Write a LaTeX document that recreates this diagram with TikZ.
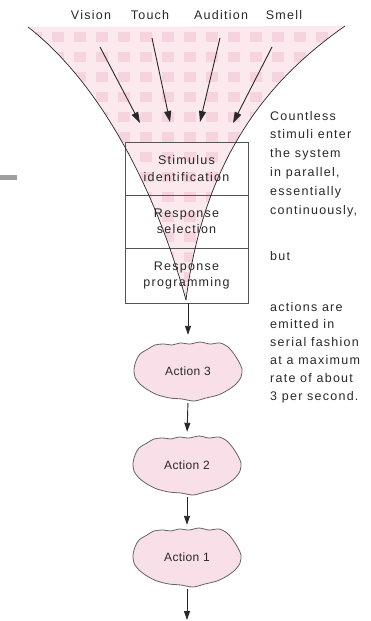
\documentclass[tikz,border=0pt]{standalone}
\usepackage{fontspec}
\setmainfont{Liberation Sans}
\newfontfamily\lsf[LetterSpace=10]{Liberation Sans}
\newfontfamily\asf[LetterSpace=3]{Liberation Sans}
\usetikzlibrary{arrows.meta}
\definecolor{inkc}{RGB}{40,40,40}
\definecolor{pinkbase}{RGB}{251,233,238}
\definecolor{pinkdot}{RGB}{246,212,223}
\definecolor{cloudfill}{RGB}{249,224,232}
\definecolor{cloudline}{RGB}{100,100,100}
\definecolor{boxline}{RGB}{85,85,85}
\begin{document}
\begin{tikzpicture}[x=1pt,y=-1pt,
  txt/.style={font=\lsf\fontsize{12.5}{16.5}\selectfont, text=inkc, inner sep=0pt},
  rowbox/.style={draw=boxline, line width=0.7pt, minimum width=123pt, inner sep=0pt, align=center,
     font=\lsf\fontsize{12.5}{16.5}\selectfont, text=inkc},
  funnelline/.style={draw=inkc, line width=0.7pt},
  inarrow/.style={draw=inkc, line width=0.9pt, -{Triangle[length=11pt,width=7pt]}},
  outarrow/.style={draw=inkc, line width=0.9pt, -{Triangle[length=9pt,width=6pt]}},
  action/.style={font=\asf\fontsize{12}{14}\selectfont, text=inkc, inner sep=0pt,
     minimum width=108pt, minimum height=58pt},
  cloudst/.style={draw=cloudline, fill=cloudfill, line width=0.8pt},
  blob/.pic={\path[cloudst] plot[smooth cycle, tension=0.5] coordinates {
     (-48,-17) (-40,-22) (-33,-26) (-24,-27) (-16,-26) (-8,-28) (2,-27) (12,-29)
     (22,-27) (32,-28) (40,-24) (46,-17) (51,-9) (54,-2) (53,6) (48,13) (40,19)
     (30,24) (18,27) (6,30) (-6,28) (-18,27) (-30,24) (-40,19) (-48,13) (-53,6)
     (-54,-2) (-52,-10)};}
]
\useasboundingbox (0,0) rectangle (370,621);

% funnel fill
\begin{scope}
  \clip (28,27) .. controls (90,75) and (150,170) .. (186,300)
        .. controls (205,150) and (275,75) .. (345,26) -- cycle;
  \fill[pinkbase] (0,0) rectangle (370,310);
  \foreach \i in {0,...,15} \foreach \j in {0,...,13} {
    \fill[pinkdot] ({30+\i*22},{32+\j*20}) rectangle +(12,10);
  }
\end{scope}

% small mark at left
\fill[gray!75] (0,175) rectangle (17,180);

% labels
\node[txt] (vis) at (91,15) {Vision};
\node[txt] (tou) at (150,15) {Touch};
\node[txt] (aud) at (221,15) {Audition};
\node[txt] (sme) at (284,15) {Smell};

% stage boxes
\node[rowbox, minimum height=53pt] (b1) at (186.5,168.5) {Stimulus\\identification};
\node[rowbox, minimum height=53pt] (b2) at (186.5,221.5) {Response\\selection};
\node[rowbox, minimum height=55pt] (b3) at (186.5,275.5) {Response\\programming};

% funnel edges
\draw[funnelline] (28,27) .. controls (90,75) and (150,170) .. (186,300);
\draw[funnelline] (345,26) .. controls (275,75) and (205,150) .. (186,300);

% incoming arrows
\coordinate (v0) at (100,47);  \coordinate (v1) at (140,123);
\coordinate (t0) at (152,38);  \coordinate (t1) at (170,122);
\coordinate (u0) at (220,38);  \coordinate (u1) at (200,122);
\coordinate (s0) at (272,47);  \coordinate (s1) at (233,123);
\draw[inarrow] (v0) -- (v1);
\draw[inarrow] (t0) -- (t1);
\draw[inarrow] (u0) -- (u1);
\draw[inarrow] (s0) -- (s1);

% actions
\coordinate (c3) at (188,371);
\coordinate (c2) at (187,465);
\coordinate (c1) at (187,557);
\pic at (c3) {blob};
\pic at (c2) {blob};
\pic at (c1) {blob};
\node[action] (a3) at (c3) {Action 3};
\node[action] (a2) at (c2) {Action 2};
\node[action] (a1) at (c1) {Action 1};
\coordinate (end) at (187,620);

\draw[outarrow, shorten >=7pt] (b3.south -| a3.north) -- (a3.north);
\draw[outarrow, shorten <=3pt, shorten >=4pt] (a3.south) -- (a2.north);
\draw[outarrow, shorten <=3pt, shorten >=3pt] (a2.south) -- (a1.north);
\draw[outarrow, shorten <=3pt] (a1.south) -- (end);

% right-hand commentary
\foreach [count=\i] \t in {Countless, stimuli enter, the system, {in parallel,}, essentially, {continuously,}}
  \node[txt, anchor=base west] (r\i) at (270,{120+(\i-1)*18.8}) {\t};
\node[txt, anchor=base west] (but) at (270,260) {but};
\foreach [count=\i] \t in {actions are, emitted in, serial fashion, at a maximum, rate of about, 3 per second.}
  \node[txt, anchor=base west] (s\i) at (270,{311+(\i-1)*17.8}) {\t};
\end{tikzpicture}
\end{document}
